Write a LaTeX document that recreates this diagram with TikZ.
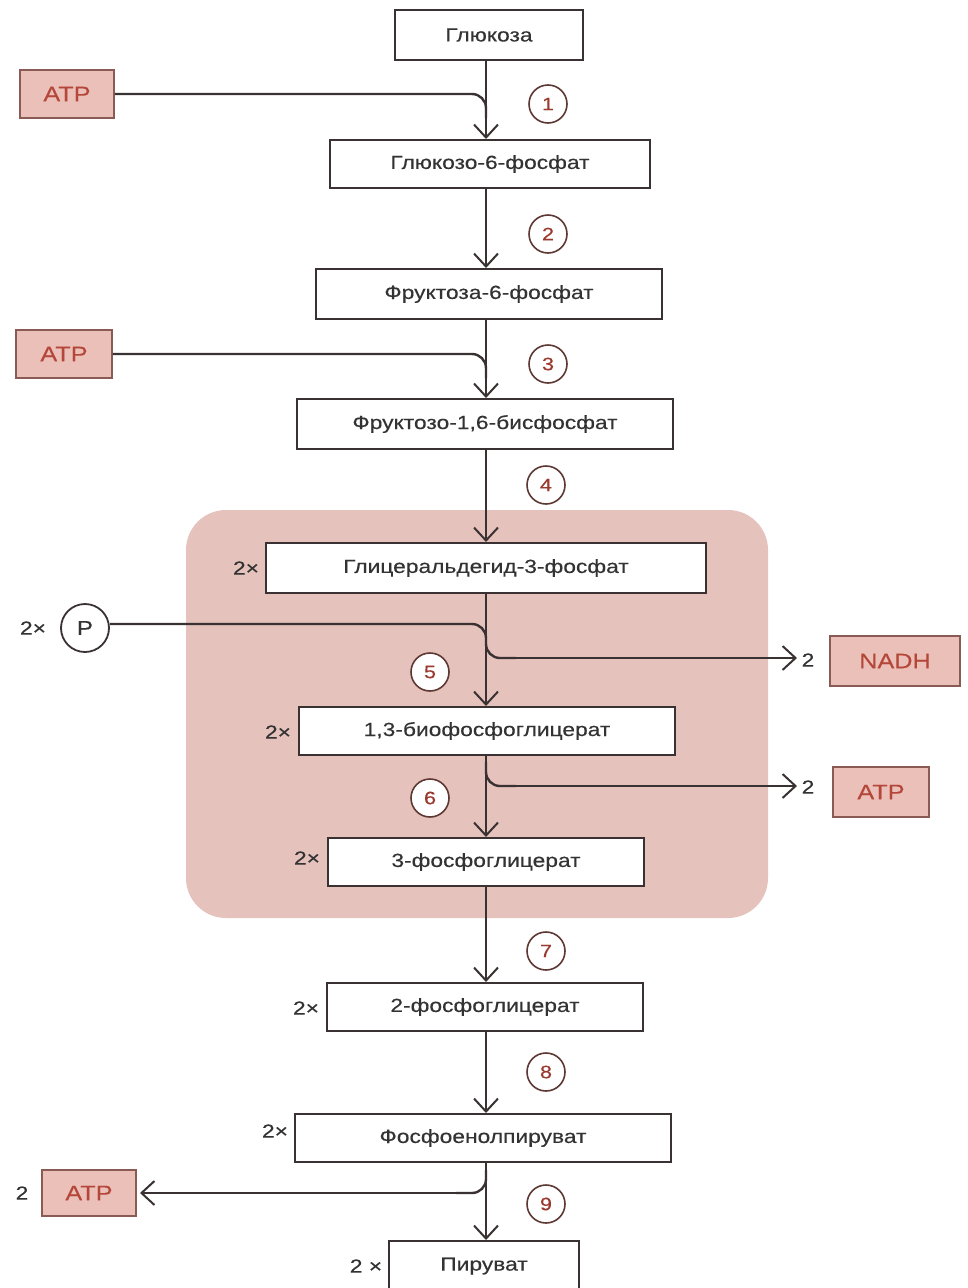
\documentclass[tikz,border=0pt]{standalone}
\usepackage{fontspec}
\setmainfont{Liberation Sans}
\newfontfamily\widefont[FakeStretch=1.2, FakeBold=0.3]{Liberation Sans}
\usetikzlibrary{arrows.meta}
\definecolor{ink}{HTML}{3A3232}
\definecolor{txt}{HTML}{333333}
\definecolor{stepred}{HTML}{9A3A2E}
\definecolor{stepring}{HTML}{5E3833}
\definecolor{atpfill}{HTML}{EBC0B9}
\definecolor{atpline}{HTML}{8A5A55}
\definecolor{atptxt}{HTML}{B5473A}
\definecolor{region}{HTML}{E6C2BD}
\tikzset{
  mbox/.style={draw=ink, line width=2pt, fill=white, inner sep=0pt, text=txt,
    font=\widefont\fontsize{19}{22}\selectfont},
  pbox/.style={draw=atpline, line width=1.8pt, fill=atpfill, inner sep=0pt, text=atptxt,
    font=\widefont\fontsize{21}{24}\selectfont},
  stepc/.style={circle, draw=stepring, line width=1.6pt, fill=white, minimum size=38pt,
    inner sep=0pt, text=stepred, font=\widefont\fontsize{18}{20}\selectfont},
  lab/.style={text=txt, font=\widefont\fontsize{19}{22}\selectfont, inner sep=0pt},
  flow/.style={draw=ink, line width=2.4pt},
  arr/.style={flow, -{Straight Barb[length=13pt,width=24pt,line width=2pt]}},
  sidebend/.style={flow, rounded corners=14pt}
}
\begin{document}
\begin{tikzpicture}[x=1pt,y=-1pt]
\useasboundingbox (0,0) rectangle (968,1288);
\clip (0,0) rectangle (968,1288);
\fill[white] (0,0) rectangle (968,1288);
% shaded region
\fill[region, rounded corners=40pt] (186,510) rectangle (768,918);
\coordinate (sp) at (486,0);
% main boxes
\node[mbox, minimum width=188pt, minimum height=50pt] (glu) at (489,35) {Глюкоза};
\node[mbox, minimum width=320pt, minimum height=48pt] (g6p) at (490,164) {Глюкозо-6-фосфат};
\node[mbox, minimum width=346pt, minimum height=50pt] (f6p) at (489,294) {Фруктоза-6-фосфат};
\node[mbox, minimum width=376pt, minimum height=50pt] (fbp) at (485,424) {Фруктозо-1,6-бисфосфат};
\node[mbox, minimum width=440pt, minimum height=50pt] (gap) at (486,568) {Глицеральдегид-3-фосфат};
\node[mbox, minimum width=376pt, minimum height=48pt] (bpg) at (487,731) {1,3-биофосфоглицерат};
\node[mbox, minimum width=316pt, minimum height=48pt] (pg3) at (486,862) {3-фосфоглицерат};
\node[mbox, minimum width=316pt, minimum height=48pt] (pg2) at (485,1007) {2-фосфоглицерат};
\node[mbox, minimum width=376pt, minimum height=48pt] (pep) at (483,1138) {Фосфоенолпируват};
\node[mbox, minimum width=190pt, minimum height=60pt, anchor=north] (pyr) at (484,1240) {};
\node[lab] (pyrt) at (484,1266) {Пируват};
% 2x labels
\node[lab] (m1) at (246,568) {2×};
\node[lab] (m2) at (278,732) {2×};
\node[lab] (m3) at (307,858) {2×};
\node[lab] (m4) at (306,1008) {2×};
\node[lab] (m5) at (275,1131) {2×};
\node[lab] (m6) at (366,1266) {2 ×};
% side boxes
\node[pbox, minimum width=94pt, minimum height=48pt] (atp1) at (67,94) {ATP};
\node[pbox, minimum width=96pt, minimum height=48pt] (atp2) at (64,354) {ATP};
\node[pbox, minimum width=130pt, minimum height=50pt] (nadh) at (895,661) {NADH};
\node[pbox, minimum width=96pt, minimum height=50pt] (atp3) at (881,792) {ATP};
\node[pbox, minimum width=94pt, minimum height=46pt] (atp4) at (89,1193) {ATP};
\node[circle, draw=ink, line width=1.8pt, minimum size=48pt, inner sep=0pt, text=txt,
  font=\widefont\fontsize{20}{22}\selectfont] (pi) at (85,628) {P};
\node[lab] (pim) at (33,628) {2×};
\node[lab] (n1) at (808,660) {2};
\node[lab] (n2) at (808,787) {2};
\node[lab] (n3) at (22,1193) {2};
\coordinate (e1) at (797,658);
\coordinate (e2) at (797,786);
\coordinate (e3) at (140,1193);
% main arrows
\draw[arr] (glu.south -| sp) -- (g6p.north -| sp);
\draw[arr] (g6p.south -| sp) -- (f6p.north -| sp);
\draw[arr] (f6p.south -| sp) -- (fbp.north -| sp);
\draw[arr] (fbp.south -| sp) -- (gap.north -| sp);
\draw[arr] (gap.south -| sp) -- (bpg.north -| sp);
\draw[arr] (bpg.south -| sp) -- (pg3.north -| sp);
\draw[arr] (pg3.south -| sp) -- (pg2.north -| sp);
\draw[arr] (pg2.south -| sp) -- (pep.north -| sp);
\draw[arr] (pep.south -| sp) -- (pyr.north -| sp);
% side connectors
\draw[sidebend] (atp1.east) -- (atp1.east -| sp) -- ++(0,24);
\draw[sidebend] (atp2.east) -- (atp2.east -| sp) -- ++(0,24);
\draw[sidebend] (pi.east |- 0,624) -- (486,624) -- (486,658) -- ++(30,0);
\draw[arr] (500,658) -- (e1);
\draw[sidebend] (486,762) -- (486,786) -- ++(30,0);
\draw[arr] (500,786) -- (e2);
\draw[sidebend] (486,1170) -- (486,1193) -- ++(-30,0);
\draw[arr] (472,1193) -- (e3);
% step circles
\node[stepc] (s1) at (548,104) {1};
\node[stepc] (s2) at (548,234) {2};
\node[stepc] (s3) at (548,364) {3};
\node[stepc] (s4) at (546,485) {4};
\node[stepc] (s5) at (430,672) {5};
\node[stepc] (s6) at (430,798) {6};
\node[stepc] (s7) at (546,951) {7};
\node[stepc] (s8) at (546,1072) {8};
\node[stepc] (s9) at (546,1204) {9};
\end{tikzpicture}
\end{document}
